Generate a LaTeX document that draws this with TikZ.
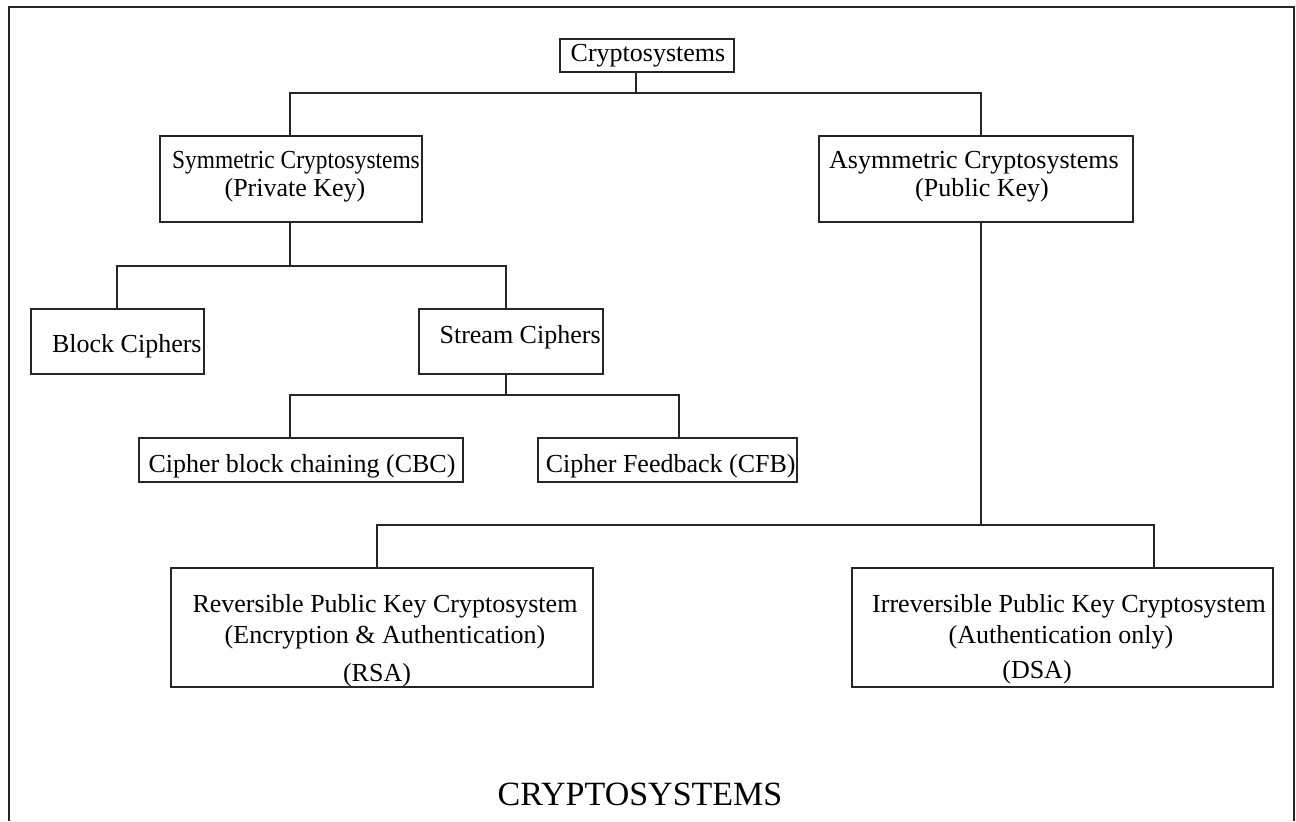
\documentclass[tikz,border=0pt]{standalone}
\usepackage{fontspec}
\setmainfont{Liberation Serif}
\begin{document}
\begin{tikzpicture}[x=0.5pt,y=-0.5pt,
  frame/.style={line width=0.8pt,black!85},
  box/.style n args={2}{draw=black!85,line width=0.6pt,inner sep=0pt,
    minimum width=#1*0.5pt,minimum height=#2*0.5pt},
  link/.style={draw=black!85,line width=0.6pt},
  txt/.style={anchor=base,inner sep=0pt,font=\fontsize{13}{15}\selectfont},
  title/.style={anchor=base,inner sep=0pt,font=\fontsize{17}{20}\selectfont}]
\useasboundingbox (0,0) rectangle (1296,821);

% outer frame, open at the bottom
\draw[frame] (9,821) -- (9,7) -- (1294,7) -- (1294,821);

% boxes
\node[box={174}{33}]  (root)   at (647,55.5)  {};
\node[box={262}{86}]  (sym)    at (291,179)   {};
\node[box={314}{86}]  (asym)   at (976,179)   {};
\node[box={173}{65}]  (block)  at (117.5,341.5) {};
\node[box={184}{65}]  (stream) at (511,341.5) {};
\node[box={324}{44}]  (cbc)    at (301,460)   {};
\node[box={259}{44}]  (cfb)    at (667.5,460) {};
\node[box={422}{119}] (rsa)    at (382,627.5) {};
\node[box={421}{119}] (dsa)    at (1062.5,627.5) {};

% texts
\node[txt] (troot) at (648,61) {Cryptosystems};
\node[txt] (tsymA) at (296,168) {\scalebox{0.9}[1]{Symmetric Cryptosystems}};
\node[txt] (tsymB) at (295,196) {(Private Key)};
\node[txt] (tasyA) at (974,168) {Asymmetric Cryptosystems};
\node[txt] (tasyB) at (982,196) {(Public Key)};
\node[txt,anchor=base east] (tblock) at (202,352) {Block Ciphers};
\node[txt,anchor=base east] (tstream) at (601,343) {Stream Ciphers};
\node[txt] (tcbc) at (302,472) {Cipher block chaining (CBC)};
\node[txt,anchor=base east] (tcfb) at (796,472) {Cipher Feedback (CFB)};
\node[txt] (trsaA) at (385,612) {Reversible Public Key Cryptosystem};
\node[txt] (trsaB) at (385,643) {(Encryption \& Authentication)};
\node[txt] (trsaC) at (377,681) {(RSA)};
\node[txt] (tdsaA) at (1069,612) {Irreversible Public Key Cryptosystem};
\node[txt] (tdsaB) at (1061,643) {(Authentication only)};
\node[txt] (tdsaC) at (1037,678) {(DSA)};
\node[title] (ttitle) at (640,805) {CRYPTOSYSTEMS};

% bus junctions
\coordinate (b0L) at (290,93);  \coordinate (b0) at (636,93);  \coordinate (b0R) at (981,93);
\coordinate (b1L) at (117,266); \coordinate (b1) at (290,266); \coordinate (b1R) at (506,266);
\coordinate (b2L) at (290,395); \coordinate (b2) at (506,395); \coordinate (b2R) at (679,395);
\coordinate (b3L) at (377,525); \coordinate (b3) at (981,525); \coordinate (b3R) at (1154,525);

% connectors
\draw[link] (root.south -| b0) -- (b0);
\draw[link] (b0L |- sym.north) -- (b0L) -- (b0R) -- (b0R |- asym.north);

\draw[link] (sym.south -| b1) -- (b1);
\draw[link] (b1L |- block.north) -- (b1L) -- (b1R) -- (b1R |- stream.north);

\draw[link] (stream.south -| b2) -- (b2);
\draw[link] (b2L |- cbc.north) -- (b2L) -- (b2R) -- (b2R |- cfb.north);

\draw[link] (asym.south -| b3) -- (b3);
\draw[link] (b3L |- rsa.north) -- (b3L) -- (b3R) -- (b3R |- dsa.north);
\end{tikzpicture}
\end{document}
